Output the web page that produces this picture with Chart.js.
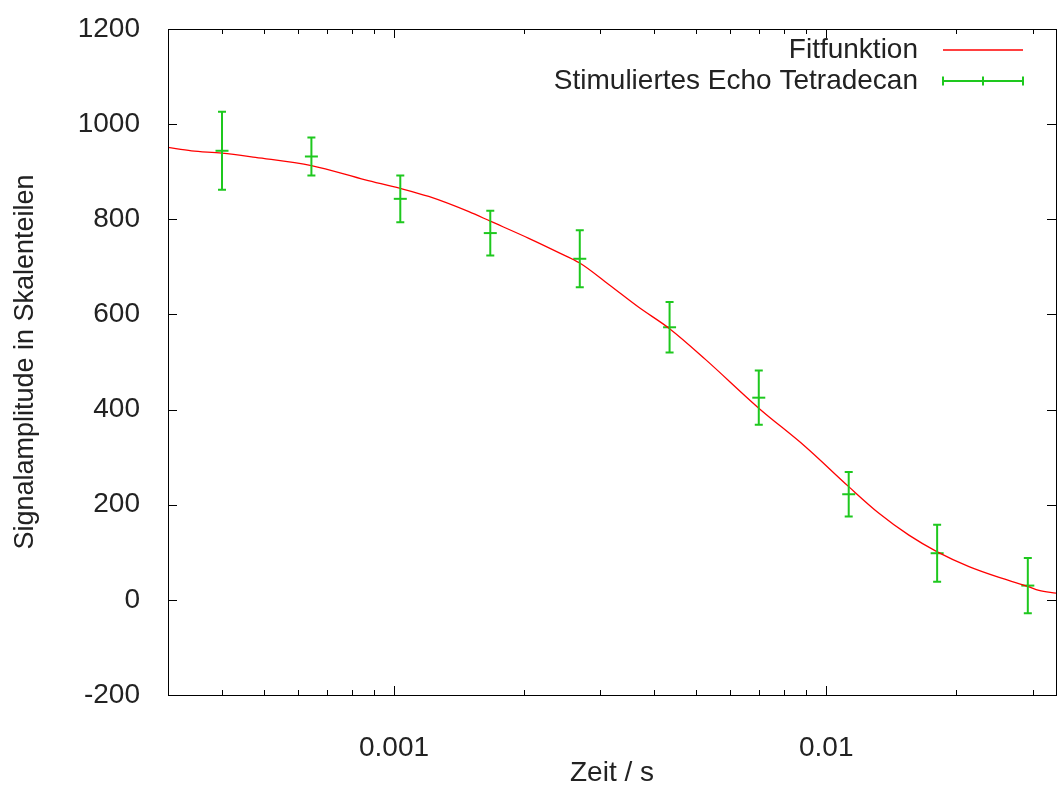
<!DOCTYPE html>
<html>
<head>
<meta charset="utf-8">
<title>Stimuliertes Echo Tetradecan</title>
<script src="https://cdn.jsdelivr.net/npm/chart.js@4.4.0/dist/chart.umd.min.js"></script>
<style>
  html, body { margin: 0; padding: 0; background: #fff; }
  canvas { display: block; }
</style>
</head>
<body>
<canvas id="chart01" width="1060" height="787"></canvas>
<script>
// Messwerte (Zeit in s, Amplitude in Skalenteilen)
var zeitWerte = [0.0004, 0.000644, 0.001034, 0.00167, 0.00269, 0.00434, 0.00698, 0.01127, 0.01805, 0.02926]
var echoWerte = [944, 932, 843, 771, 717, 573, 425, 222, 98, 30]
var echoFehler = [82, 40, 49, 47, 60, 53, 57, 47, 60, 58]

// Fitfunktion
var fitZeit = [0.0003, 0.00034, 0.0004, 0.000478, 0.000644, 0.000858, 0.001034, 0.001203, 0.00149, 0.00167, 0.00205, 0.002405, 0.00269, 0.003139, 0.003683, 0.00434, 0.00526, 0.00698, 0.00895, 0.01127, 0.01324, 0.01553, 0.01806, 0.02139, 0.02555, 0.0293, 0.03105, 0.034]
var fitWerte = [951, 944, 939, 930, 913, 883, 865, 848, 816, 796, 760, 730, 708, 663, 615, 570, 505, 403, 322, 238, 182, 136, 101, 70, 45, 28, 20, 14]

// Achsen
var xMin = 0.0003
var xMax = 0.034
var xTicks = [0.001, 0.01]
var xMinorFaktoren = [2, 3, 4, 5, 6, 7, 8, 9]
var yTicks = [-200, 0, 200, 400, 600, 800, 1000, 1200]

var ROT = '#ff0000'
var GRUEN = '#1ec81e'
var SCHRIFT = '28px "Liberation Sans", Arial, sans-serif'

Chart.defaults.font.family = '"Liberation Sans", Arial, sans-serif'
Chart.defaults.font.size = 28
Chart.defaults.color = '#222'

// error bars for the echo dataset
var fehlerbalken = {
  id: 'fehlerbalken',
  afterDatasetsDraw: function (chart) {
    var ctx = chart.ctx
    var x = chart.scales.x, y = chart.scales.y
    ctx.save()
    ctx.strokeStyle = GRUEN
    ctx.lineWidth = 2
    for (var i = 0; i < zeitWerte.length; i++) {
      var px = x.getPixelForValue(zeitWerte[i])
      var top = y.getPixelForValue(echoWerte[i] + echoFehler[i])
      var bot = y.getPixelForValue(echoWerte[i] - echoFehler[i])
      ctx.beginPath()
      ctx.moveTo(px, top); ctx.lineTo(px, bot)
      ctx.moveTo(px - 4, top); ctx.lineTo(px + 4, top)
      ctx.moveTo(px - 4, bot); ctx.lineTo(px + 4, bot)
      ctx.stroke()
    }
    ctx.restore()
  }
}

// gnuplot style frame, inward ticks, legend
var rahmen = {
  id: 'rahmen',
  afterDraw: function (chart) {
    var ctx = chart.ctx
    var a = chart.chartArea
    var x = chart.scales.x, y = chart.scales.y
    ctx.save()
    ctx.strokeStyle = '#000'
    ctx.lineWidth = 1
    ctx.strokeRect(Math.round(a.left) + 0.5, Math.round(a.top) + 0.5, Math.round(a.right - a.left), Math.round(a.bottom - a.top))

    ctx.beginPath()
    yTicks.forEach(function (v) {
      var py = Math.round(y.getPixelForValue(v)) + 0.5
      ctx.moveTo(a.left, py); ctx.lineTo(a.left + 9, py)
      ctx.moveTo(a.right, py); ctx.lineTo(a.right - 9, py)
    })
    for (var e = -4; e <= -2; e++) {
      var basis = Math.pow(10, e)
      var werte = [basis].concat(xMinorFaktoren.map(function (m) { return m * basis }))
      werte.forEach(function (v, k) {
        if (v < xMin || v > xMax) return
        var len = k === 0 ? 9 : 5
        var px = Math.round(x.getPixelForValue(v)) + 0.5
        ctx.moveTo(px, a.bottom); ctx.lineTo(px, a.bottom - len)
        ctx.moveTo(px, a.top); ctx.lineTo(px, a.top + len)
      })
    }
    ctx.stroke()

    // legend
    var textX = a.right - 138
    var l0 = a.right - 113, l1 = a.right - 33
    var y1 = a.top + 21, y2 = a.top + 52
    ctx.font = SCHRIFT
    ctx.fillStyle = '#222'
    ctx.textAlign = 'right'
    ctx.textBaseline = 'middle'
    ctx.fillText('Fitfunktion', textX, y1)
    ctx.fillText('Stimuliertes Echo Tetradecan', textX, y2)

    ctx.strokeStyle = ROT
    ctx.lineWidth = 1.5
    ctx.beginPath()
    ctx.moveTo(l0, y1); ctx.lineTo(l1, y1)
    ctx.stroke()

    ctx.strokeStyle = GRUEN
    ctx.lineWidth = 2
    ctx.beginPath()
    ctx.moveTo(l0, y2); ctx.lineTo(l1, y2)
    var mitte = (l0 + l1) / 2
    ;[l0, mitte, l1].forEach(function (px) {
      ctx.moveTo(px, y2 - 4.5); ctx.lineTo(px, y2 + 4.5)
    })
    ctx.stroke()
    ctx.restore()
  }
}

var fitDaten = fitZeit.map(function (t, i) { return { x: t, y: fitWerte[i] } })
var echoDaten = zeitWerte.map(function (t, i) { return { x: t, y: echoWerte[i] } })

var chart = new Chart(document.getElementById('chart01').getContext('2d'), {
  type: 'scatter',
  data: {
    datasets: [{
      label: 'Fitfunktion',
      data: fitDaten,
      showLine: true,
      borderColor: ROT,
      borderWidth: 1.3,
      pointRadius: 0,
      cubicInterpolationMode: 'monotone'
    }, {
      label: 'Stimuliertes Echo Tetradecan',
      data: echoDaten,
      showLine: false,
      pointStyle: 'line',
      pointRadius: 6.5,
      pointBorderWidth: 2,
      pointBorderColor: GRUEN,
      pointBackgroundColor: GRUEN
    }]
  },
  options: {
    responsive: false,
    animation: false,
    devicePixelRatio: 1,
    layout: { autoPadding: false, padding: { top: 29, right: 4, left: 0, bottom: 0 } },
    plugins: {
      legend: { display: false },
      tooltip: { enabled: false }
    },
    scales: {
      x: {
        type: 'logarithmic',
        min: xMin,
        max: xMax,
        grid: { display: false, drawTicks: false },
        border: { display: false },
        afterBuildTicks: function (scale) {
          scale.ticks = xTicks.map(function (v) { return { value: v } })
        },
        afterFit: function (scale) {
          scale.height = 92
          scale.paddingLeft = 0
          scale.paddingRight = 0
        },
        ticks: {
          padding: 36,
          maxRotation: 0,
          callback: function (v) { return String(v) }
        },
        title: { display: true, text: 'Zeit / s', font: { lineHeight: 1.0 }, padding: { top: 0, bottom: 0 } }
      },
      y: {
        min: -200,
        max: 1200,
        grid: { display: false, drawTicks: false },
        border: { display: false },
        afterBuildTicks: function (scale) {
          scale.ticks = yTicks.map(function (v) { return { value: v } })
        },
        afterFit: function (scale) {
          scale.width = 168
          scale.paddingTop = 0
          scale.paddingBottom = 0
        },
        ticks: {
          padding: 28,
          callback: function (v) { return String(v) }
        },
        title: { display: true, text: 'Signalamplitude in Skalenteilen', font: { size: 27 }, padding: { top: 9, bottom: 0 } }
      }
    }
  },
  plugins: [fehlerbalken, rahmen]
})
</script>
</body>
</html>
